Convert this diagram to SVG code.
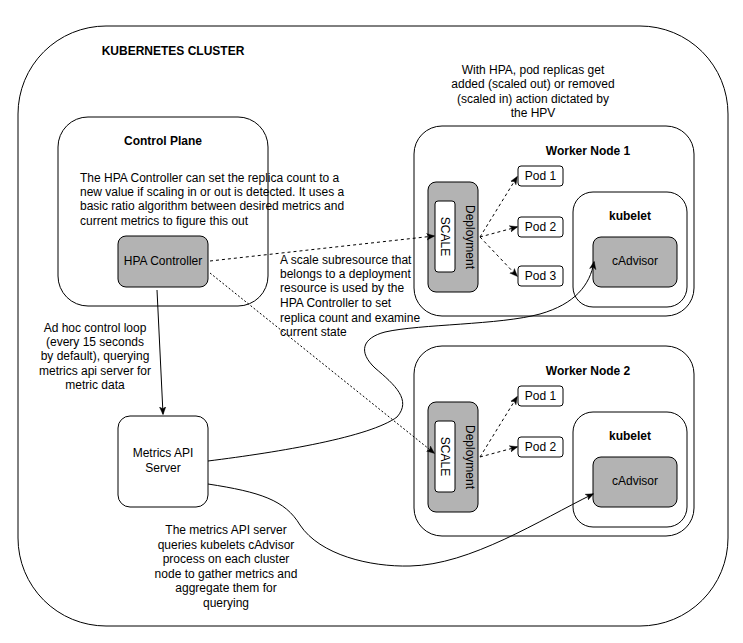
<svg xmlns="http://www.w3.org/2000/svg" width="743" height="643" viewBox="0 0 743 643">
<defs>
<marker id="arr" viewBox="0 0 10 10" refX="9" refY="5" markerWidth="8" markerHeight="8" markerUnits="userSpaceOnUse" orient="auto">
<path d="M0,1 L10,5 L0,9 L2.5,5 Z" fill="#000" stroke="#000" stroke-width="0.5"/>
</marker>
<style>
text{font-family:"Liberation Sans",Arial,Helvetica,sans-serif;font-size:12px;fill:#000}
.b{font-weight:bold}
.m{text-anchor:middle}
.box{fill:#fff;stroke:#000;stroke-width:1}
.gray{fill:#b3b3b3;stroke:#000;stroke-width:1}
.edge{fill:none;stroke:#000;stroke-width:1}
.dash{stroke-dasharray:3 3}
.dot{stroke-dasharray:2 2}
</style>
</defs>
<rect width="743" height="643" fill="#fff"/>
<g id="cluster">
<rect class="box" x="18" y="26" width="710" height="600" rx="88" ry="88"/>
<text class="b m" x="173" y="55">KUBERNETES CLUSTER</text>
</g>
<g id="control-plane">
<rect class="box" x="58" y="117" width="210" height="189" rx="30" ry="30"/>
<text class="b m" x="163" y="145">Control Plane</text>
<text x="80" y="182">The HPA Controller can set the replica count to a</text>
<text x="80" y="196">new value if scaling in or out is detected. It uses a</text>
<text x="80" y="210">basic ratio algorithm between desired metrics and</text>
<text x="80" y="225">current metrics to figure this out</text>
</g>
<g id="hpa-controller">
<rect class="gray" x="118" y="236" width="90" height="51" rx="8" ry="8"/>
<text class="m" x="163" y="265">HPA Controller</text>
</g>
<g id="metrics-api">
<rect class="box" x="118" y="416" width="90" height="91" rx="12" ry="12"/>
<text class="m" x="163" y="457">Metrics API</text>
<text class="m" x="163" y="472">Server</text>
</g>
<g id="worker-node-1">
<rect class="box" x="414" y="126" width="280" height="190" rx="28" ry="28"/>
<text class="b m" x="588" y="155">Worker Node 1</text>
</g>
<g id="deployment-1">
<rect class="gray" x="428" y="182" width="50" height="110" rx="8" ry="8"/>
<text class="m" transform="translate(470,237) rotate(90)" dominant-baseline="central">Deployment</text>
</g>
<g id="scale-1">
<rect class="box" x="435" y="201" width="20" height="71" rx="3" ry="3"/>
<text class="m" transform="translate(445,236.5) rotate(90)" dominant-baseline="central">SCALE</text>
</g>
<g id="pod-1-1">
<rect class="box" x="518" y="166" width="45" height="20" rx="3" ry="3"/>
<text class="m" x="540.5" y="180">Pod 1</text>
</g>
<g id="pod-1-2">
<rect class="box" x="518" y="217" width="45" height="20" rx="3" ry="3"/>
<text class="m" x="540.5" y="231">Pod 2</text>
</g>
<g id="pod-1-3">
<rect class="box" x="518" y="266" width="45" height="20" rx="3" ry="3"/>
<text class="m" x="540.5" y="280">Pod 3</text>
</g>
<g id="kubelet-1">
<rect class="box" x="573" y="192" width="114" height="115" rx="20" ry="20"/>
<text class="b m" x="630" y="220">kubelet</text>
</g>
<g id="cadvisor-1">
<rect class="gray" x="593" y="237" width="84" height="50" rx="8" ry="8"/>
<text class="m" x="635" y="265">cAdvisor</text>
</g>
<g id="worker-node-2">
<rect class="box" x="414" y="346" width="280" height="190" rx="28" ry="28"/>
<text class="b m" x="588" y="375">Worker Node 2</text>
</g>
<g id="deployment-2">
<rect class="gray" x="428" y="402" width="50" height="110" rx="8" ry="8"/>
<text class="m" transform="translate(470,457) rotate(90)" dominant-baseline="central">Deployment</text>
</g>
<g id="scale-2">
<rect class="box" x="435" y="421" width="20" height="71" rx="3" ry="3"/>
<text class="m" transform="translate(445,456.5) rotate(90)" dominant-baseline="central">SCALE</text>
</g>
<g id="pod-2-1">
<rect class="box" x="518" y="386" width="45" height="20" rx="3" ry="3"/>
<text class="m" x="540.5" y="400">Pod 1</text>
</g>
<g id="pod-2-2">
<rect class="box" x="518" y="437" width="45" height="20" rx="3" ry="3"/>
<text class="m" x="540.5" y="451">Pod 2</text>
</g>
<g id="kubelet-2">
<rect class="box" x="573" y="412" width="114" height="115" rx="20" ry="20"/>
<text class="b m" x="630" y="440">kubelet</text>
</g>
<g id="cadvisor-2">
<rect class="gray" x="593" y="457" width="84" height="50" rx="8" ry="8"/>
<text class="m" x="635" y="485">cAdvisor</text>
</g>
<g id="labels">
<text class="m" x="533" y="74">With HPA, pod replicas get</text>
<text class="m" x="533" y="88">added (scaled out) or removed</text>
<text class="m" x="533" y="103">(scaled in) action dictated by</text>
<text class="m" x="533" y="117">the HPV</text>
<text x="280" y="264">A scale subresource that</text>
<text x="280" y="278">belongs to a deployment</text>
<text x="280" y="292">resource is used by the</text>
<text x="280" y="307">HPA Controller to set</text>
<text x="280" y="322">replica count and examine</text>
<text x="280" y="336">current state</text>
<text class="m" x="95" y="332">Ad hoc control loop</text>
<text class="m" x="95" y="346">(every 15 seconds</text>
<text class="m" x="95" y="360">by default), querying</text>
<text class="m" x="95" y="375">metrics api server for</text>
<text class="m" x="95" y="389">metric data</text>
<text class="m" x="226" y="534">The metrics API server</text>
<text class="m" x="226" y="549">queries kubelets cAdvisor</text>
<text class="m" x="226" y="563">process on each cluster</text>
<text class="m" x="226" y="578">node to gather metrics and</text>
<text class="m" x="226" y="592">aggregate them for</text>
<text class="m" x="226" y="607">querying</text>
</g>
<g id="connectors">
<path class="edge" d="M157,290 L163,414" marker-end="url(#arr)"/>
<path class="edge dash" d="M210,261 L434,236" marker-end="url(#arr)"/>
<path class="edge dot" d="M210,273 L434,453" marker-end="url(#arr)"/>
<path class="edge dash" d="M480,237 L517,177" marker-end="url(#arr)"/>
<path class="edge dash" d="M480,237 L517,227" marker-end="url(#arr)"/>
<path class="edge dash" d="M480,237 L517,276" marker-end="url(#arr)"/>
<path class="edge dash" d="M480,457 L517,397" marker-end="url(#arr)"/>
<path class="edge dash" d="M480,457 L517,447" marker-end="url(#arr)"/>
<path class="edge" d="M208,461 C280,452 370,437 397,417 C412,400 395,385 375,368 C358,352 362,338 385,332 C420,324 500,325 540,314 C575,304 590,285 594,262" marker-end="url(#arr)"/>
<path class="edge" d="M208,484 C260,492 285,500 300,525 C320,555 370,567 410,566 C470,565 540,520 593,494" marker-end="url(#arr)"/>
</g>
</svg>
